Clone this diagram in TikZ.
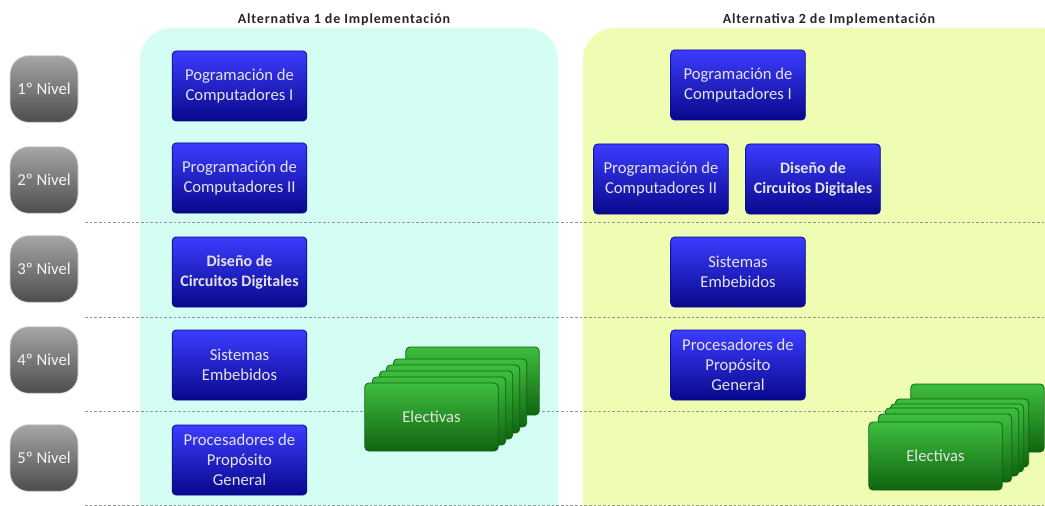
\documentclass[tikz,border=0pt]{standalone}
\usepackage{fontspec}
\setmainfont{Carlito}
\newfontfamily\titlefont[LetterSpace=6]{Carlito}
\definecolor{panelA}{RGB}{212,253,243}
\definecolor{panelB}{RGB}{238,253,178}
\definecolor{blueTop}{RGB}{60,60,255}
\definecolor{blueMid}{RGB}{30,30,238}
\definecolor{blueBot}{RGB}{8,8,140}
\definecolor{greenTop}{RGB}{62,190,62}
\definecolor{greenMid}{RGB}{42,165,42}
\definecolor{greenBot}{RGB}{16,100,16}
\definecolor{txt}{RGB}{228,228,228}
\definecolor{sepgray}{RGB}{150,150,150}
\tikzset{
  panel/.style={rounded corners=24pt},
  blubox/.style={draw=blueBot, line width=0.6pt, rounded corners=3pt,
    top color=blueTop, middle color=blueMid, bottom color=blueBot,
    minimum width=101pt, minimum height=52.5pt, inner sep=0pt, align=center,
    text=txt, font=\fontsize{12.5}{15}\selectfont},
  boldtext/.style={font=\bfseries\fontsize{12}{15}\selectfont},
  grnbox/.style={draw=greenBot, line width=0.6pt, rounded corners=3pt,
    top color=greenTop, middle color=greenMid, bottom color=greenBot,
    minimum width=100pt, minimum height=51pt, inner sep=0pt, align=center,
    text=txt, font=\fontsize{12.5}{15}\selectfont},
  lvl/.style={draw=white!70!gray, line width=0.6pt, rounded corners=14pt,
    top color=gray!70, bottom color=black!70,
    minimum width=51pt, minimum height=50pt, inner sep=0pt,
    text=white!92!gray, font=\fontsize{12.5}{14}\selectfont},
  sepline/.style={draw=sepgray, line width=0.5pt, dash pattern=on 2pt off 1.5pt},
  ttl/.style={font=\titlefont\bfseries\fontsize{10.5}{12}\selectfont, text=black!85}
}
\begin{document}
\begin{tikzpicture}[x=0.75pt,y=-0.75pt]
\useasboundingbox (0,0) rectangle (1045,506);
\clip (0,0) rectangle (1045,506);
% panels
\fill[panelA, panel] (140,28) rectangle (558,540);
\fill[panelB, panel] (583,28) rectangle (1075,540);
% titles
\node[ttl] (t1) at (344,20) {Alternativa 1 de Implementación};
\node[ttl] (t2) at (829,20) {Alternativa 2 de Implementación};
% separators
\coordinate (s1a) at (85,222); \coordinate (s1b) at (1045,222);
\coordinate (s2a) at (85,317); \coordinate (s2b) at (1045,317);
\coordinate (s3a) at (85,411); \coordinate (s3b) at (1045,411);
\coordinate (s4a) at (85,505); \coordinate (s4b) at (1045,505);
\draw[sepline] (s1a) -- (s1b);
\draw[sepline] (s2a) -- (s2b);
\draw[sepline] (s3a) -- (s3b);
\draw[sepline] (s4a) -- (s4b);
% levels
\node[lvl] (n1) at (44,89) {1º Nivel};
\node[lvl] (n2) at (44,180) {2º Nivel};
\node[lvl] (n3) at (44,269) {3º Nivel};
\node[lvl] (n4) at (44,360) {4º Nivel};
\node[lvl] (n5) at (44,458) {5º Nivel};
% alternative 1
\node[blubox] (a1) at (239.5,86) {Pogramación de\\Computadores I};
\node[blubox] (a2) at (239.5,178) {Programación de\\Computadores II};
\node[blubox, boldtext] (a3) at (239.5,272) {Diseño de\\Circuitos Digitales};
\node[blubox] (a4) at (239.5,365) {Sistemas\\Embebidos};
\node[blubox] (a5) at (239.5,460) {Procesadores de\\Propósito\\General};
% electivas 1
\node[grnbox] (e1f) at (472.5,381) {};
\node[grnbox] (e1e) at (460,393) {};
\node[grnbox] (e1d) at (453,399) {};
\node[grnbox] (e1c) at (446,405) {};
\node[grnbox] (e1b) at (439,411) {};
\node[grnbox] (e1a) at (431.5,417) {Electivas};
% alternative 2
\node[blubox] (b1) at (738,85) {Pogramación de\\Computadores I};
\node[blubox] (b2) at (661,179) {Programación de\\Computadores II};
\node[blubox, boldtext] (b3) at (813,179) {Diseño de\\Circuitos Digitales};
\node[blubox] (b4) at (738,272) {Sistemas\\Embebidos};
\node[blubox] (b5) at (738,365) {Procesadores de\\Propósito\\General};
% electivas 2
\node[grnbox] (e2f) at (977.5,418) {};
\node[grnbox] (e2e) at (962,433) {};
\node[grnbox] (e2d) at (957,438) {};
\node[grnbox] (e2c) at (952,442) {};
\node[grnbox] (e2b) at (945,448) {};
\node[grnbox] (e2a) at (935.5,456) {Electivas};
\end{tikzpicture}
\end{document}
